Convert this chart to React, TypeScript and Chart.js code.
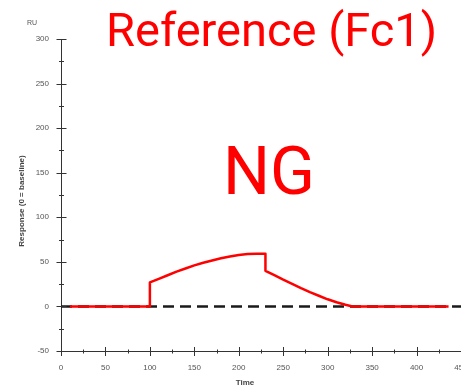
import React, { useEffect, useRef } from 'react';
import { Chart, registerables } from 'chart.js';

Chart.register(...registerables);

// Sensorgram (Reference Fc1): time (s) vs response (RU)
const responseTimes = [10, 100, 100, 110, 120, 130, 140, 150, 160, 170, 180, 190, 200, 210, 220, 230, 230, 240, 250, 260, 270, 280, 290, 300, 310, 320, 328, 436];
const responseValues = [0, 0, 27, 31, 35, 39, 42.5, 46, 49, 51.5, 54, 56, 57.8, 58.8, 59, 59, 40, 35, 30, 25.3, 20.5, 16, 12, 8, 4.7, 1.8, 0, 0];

const baselineTimes = [0, 450];
const baselineValues = [0, 0];

const xRange = [0, 450];
const yRange = [-50, 300];
const tickStep = 25;
const labelStep = 50;

const titleText = 'Reference (Fc1)';
const verdictText = 'NG';
const unitText = 'RU';
const yTitleText = 'Response (0 = baseline)';
const xTitleText = 'Time';

const tickMarksPlugin = {
  id: 'tickMarks',
  afterDraw(chart: any) {
    const ctx = chart.ctx;
    const xs = chart.scales.x;
    const ys = chart.scales.y;
    ctx.save();
    ctx.strokeStyle = '#333';
    ctx.lineWidth = 1;
    ctx.beginPath();
    const ax = Math.round(ys.right) + 0.5;
    ys.ticks.forEach((t: any) => {
      const y = Math.round(ys.getPixelForValue(t.value)) + 0.5;
      const major = t.value % labelStep === 0;
      const h = major ? 5 : 2.5;
      ctx.moveTo(ax - h, y);
      ctx.lineTo(ax + h, y);
    });
    const ay = Math.round(xs.top) + 0.5;
    xs.ticks.forEach((t: any) => {
      const x = Math.round(xs.getPixelForValue(t.value)) + 0.5;
      const major = t.value % labelStep === 0;
      const h = major ? 4.5 : 2;
      ctx.moveTo(x, ay - h);
      ctx.lineTo(x, ay + h);
    });
    ctx.stroke();

    // annotations / titles
    ctx.fillStyle = '#ff0000';
    ctx.textBaseline = 'alphabetic';
    ctx.textAlign = 'left';
    ctx.font = '47px Roboto';
    ctx.fillText(titleText, 106, 46);
    ctx.font = '66px Roboto';
    ctx.fillText(verdictText, 223, 194);

    ctx.fillStyle = '#555';
    ctx.font = '7px "Liberation Sans"';
    ctx.textAlign = 'center';
    ctx.textBaseline = 'middle';
    ctx.fillText(unitText, 32, 23);

    ctx.fillStyle = '#444';
    ctx.font = 'bold 8px "Liberation Sans"';
    ctx.fillText(xTitleText, 245, 383);

    ctx.translate(22, 201);
    ctx.rotate(-Math.PI / 2);
    ctx.fillText(yTitleText, 0, 0);
    ctx.restore();
  },
};

export default function App() {
  const canvasRef = useRef<HTMLCanvasElement | null>(null);

  useEffect(() => {
    const canvas = canvasRef.current;
    if (!canvas) return;
    const labelCb = (v: any) => (Number(v) % labelStep === 0 ? String(v) : '');
    const tickFont = { family: '"Liberation Sans", Arial, sans-serif', size: 8 };
    const chart = new Chart(canvas, {
      type: 'scatter',
      data: {
        datasets: [
          {
            label: 'Reference (Fc1)',
            data: responseTimes.map((t, i) => ({ x: t, y: responseValues[i] })),
            showLine: true,
            borderColor: '#ff0000',
            backgroundColor: '#ff0000',
            borderWidth: 2.5,
            pointRadius: 0,
            tension: 0,
            borderJoinStyle: 'round',
          },
          {
            label: 'Baseline',
            data: baselineTimes.map((t, i) => ({ x: t, y: baselineValues[i] })),
            showLine: true,
            borderColor: '#1a1a1a',
            backgroundColor: '#1a1a1a',
            borderWidth: 2.5,
            borderDash: [11, 6],
            pointRadius: 0,
          },
        ],
      },
      options: {
        responsive: false,
        maintainAspectRatio: false,
        animation: false,
        devicePixelRatio: 1,
        layout: { padding: { left: 0, top: 39, right: 29, bottom: 0 } },
        plugins: { legend: { display: false }, tooltip: { enabled: false }, title: { display: false } },
        scales: {
          x: {
            type: 'linear',
            min: xRange[0],
            max: xRange[1],
            grid: { display: false, drawTicks: false },
            border: { display: true, color: '#333', width: 1 },
            ticks: { stepSize: tickStep, callback: labelCb, font: tickFont, color: '#555', padding: 12, maxRotation: 0, autoSkip: false },
            afterFit: (s: any) => {
              s.height = 36;
              s.paddingLeft = 0;
              s.paddingRight = 0;
              s.paddingTop = 0;
              s.paddingBottom = 0;
            },
          },
          y: {
            type: 'linear',
            min: yRange[0],
            max: yRange[1],
            grid: { display: false, drawTicks: false },
            border: { display: true, color: '#333', width: 1 },
            ticks: { stepSize: tickStep, callback: labelCb, font: tickFont, color: '#555', padding: 12, autoSkip: false },
            afterFit: (s: any) => {
              s.width = 61;
              s.paddingLeft = 0;
              s.paddingRight = 0;
              s.paddingTop = 0;
              s.paddingBottom = 0;
            },
          },
        },
      },
      plugins: [tickMarksPlugin],
    } as any);
    return () => chart.destroy();
  }, []);

  return (
    <div style={{ position: 'fixed', left: 0, top: 0, width: 461, height: 387, overflow: 'hidden', background: '#fff' }}>
      <canvas ref={canvasRef} width={490} height={387} style={{ display: 'block', width: 490, height: 387 }} />
    </div>
  );
}
